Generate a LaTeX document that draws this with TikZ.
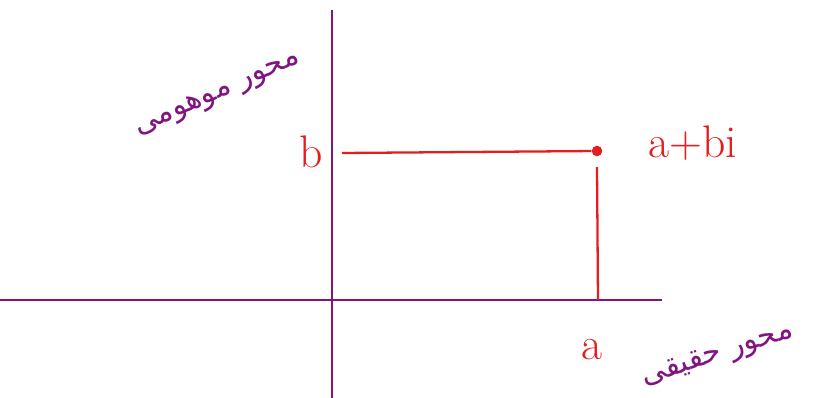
\documentclass[tikz,border=0pt]{standalone}
\usepackage{fontspec}
\usetikzlibrary{positioning}
\TeXXeTstate=1
\newfontfamily\arabicfont[Script=Arabic]{DejaVu Sans}
\definecolor{AxisPurple}{RGB}{128,20,128}
\definecolor{PartRed}{RGB}{228,30,30}

\begin{document}
\begin{tikzpicture}[x=0.02cm, y=-0.02cm,
    axis/.style={AxisPurple, line width=1.3pt},
    part/.style={PartRed, line width=1.3pt},
    letter/.style={PartRed, font=\fontsize{26}{30}\selectfont},
    axisname/.style={AxisPurple, font=\arabicfont\fontsize{17}{20}\selectfont}]
  \useasboundingbox (0,0) rectangle (815,398);
  % axes
  \coordinate (ytop) at (332,10);
  \coordinate (ybot) at (332,398);
  \coordinate (xleft) at (0,300);
  \coordinate (xright) at (662,300);
  \draw[axis] (ytop) -- (ybot);
  \draw[axis] (xleft) -- (xright);
  % point and its parts
  \node[circle, fill=PartRed, inner sep=0pt, minimum size=6pt] (pt) at (597,151) {};
  \coordinate (bfoot) at (342,153);
  \coordinate (afoot) at (598,300);
  \draw[part] (bfoot) -- (pt);
  \draw[part] ([yshift=-6pt]pt.south) -- (afoot);
  % labels
  \node[letter] (blabel) at (311,152) {b};
  \node[letter] (pointlabel) at (693,143) {a+bi};
  \node[letter] (alabel) at (592,350) {a};
  \node[axisname, rotate=24] (imagname) at (218,95) {\beginR محور موهومی\endR};
  \node[axisname, rotate=18] (realname) at (718,356) {\beginR محور حقیقی\endR};
\end{tikzpicture}
\end{document}
